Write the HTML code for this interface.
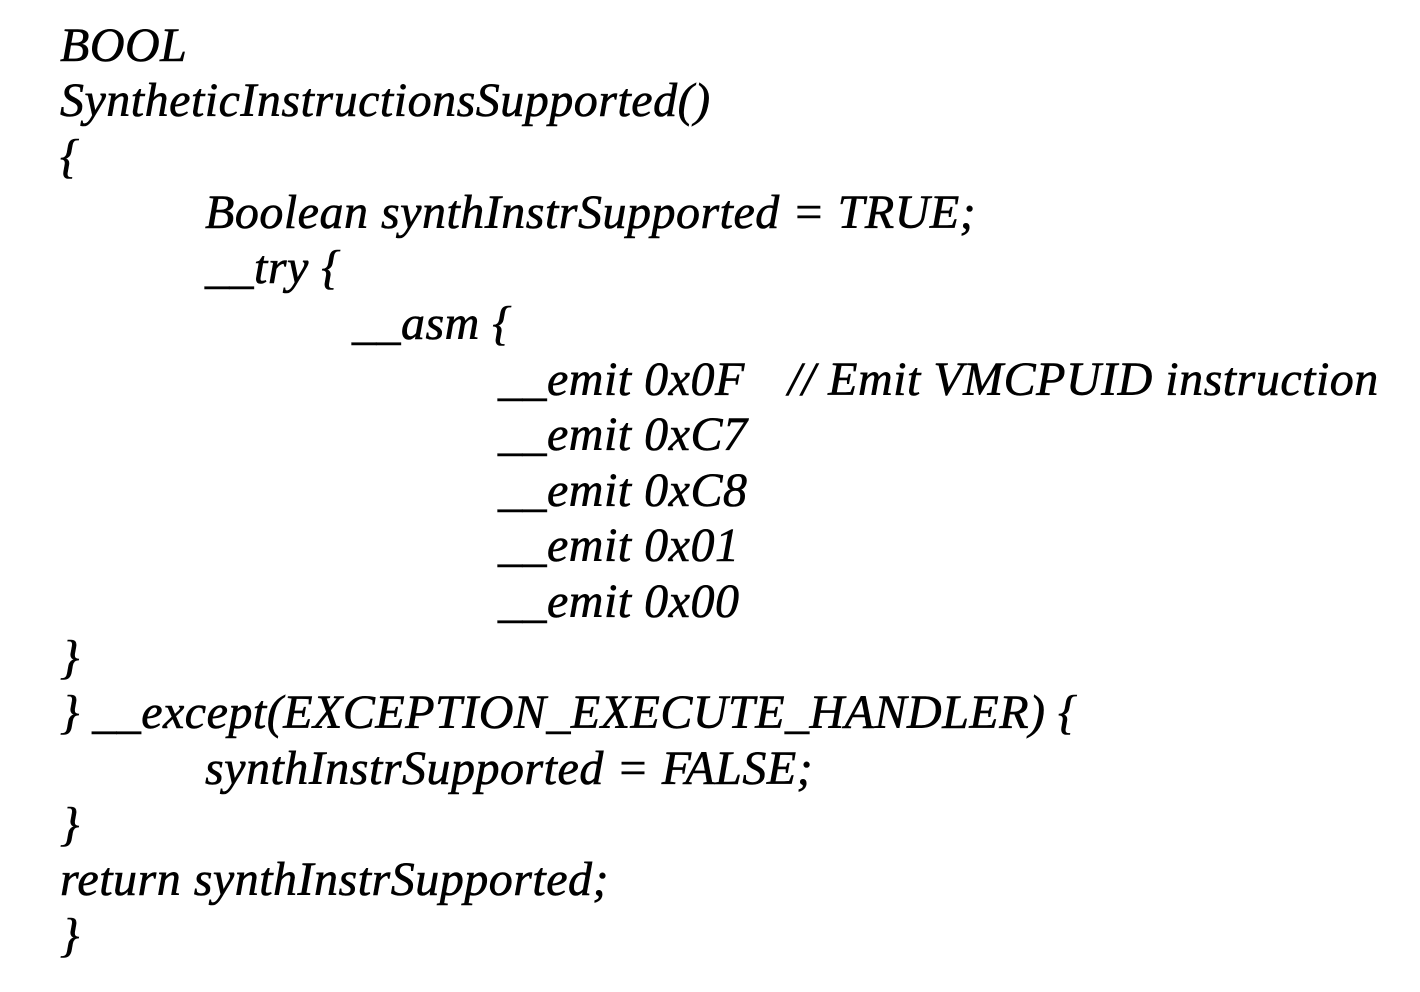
<!DOCTYPE html>
<html><head><meta charset="utf-8">
<style>
html,body{margin:0;padding:0;background:#fff;}
body{width:1420px;height:992px;position:relative;overflow:hidden;}
.l{position:absolute;font-family:"Liberation Serif",serif;font-style:italic;font-size:48px;letter-spacing:0.5px;line-height:56px;color:#000;white-space:pre;-webkit-text-stroke:0.6px #000;}
</style></head><body>
<div class="l" style="left:60px;top:18px">BOOL</div>
<div class="l" style="left:60px;top:73px">SyntheticInstructionsSupported()</div>
<div class="l" style="left:60px;top:129px">{</div>
<div class="l" style="left:205px;top:185px">Boolean synthInstrSupported = TRUE;</div>
<div class="l" style="left:205px;top:240px">__try {</div>
<div class="l" style="left:352px;top:296px">__asm {</div>
<div class="l" style="left:498px;top:352px">__emit 0x0F</div>
<div class="l" style="left:788px;top:352px">// Emit VMCPUID instruction</div>
<div class="l" style="left:498px;top:407px">__emit 0xC7</div>
<div class="l" style="left:498px;top:463px">__emit 0xC8</div>
<div class="l" style="left:498px;top:518px">__emit 0x01</div>
<div class="l" style="left:498px;top:574px">__emit 0x00</div>
<div class="l" style="left:60px;top:630px">}</div>
<div class="l" style="left:60px;top:685px">} __except(EXCEPTION_EXECUTE_HANDLER) {</div>
<div class="l" style="left:205px;top:741px">synthInstrSupported = FALSE;</div>
<div class="l" style="left:60px;top:797px">}</div>
<div class="l" style="left:60px;top:852px">return synthInstrSupported;</div>
<div class="l" style="left:60px;top:908px">}</div>
</body></html>
